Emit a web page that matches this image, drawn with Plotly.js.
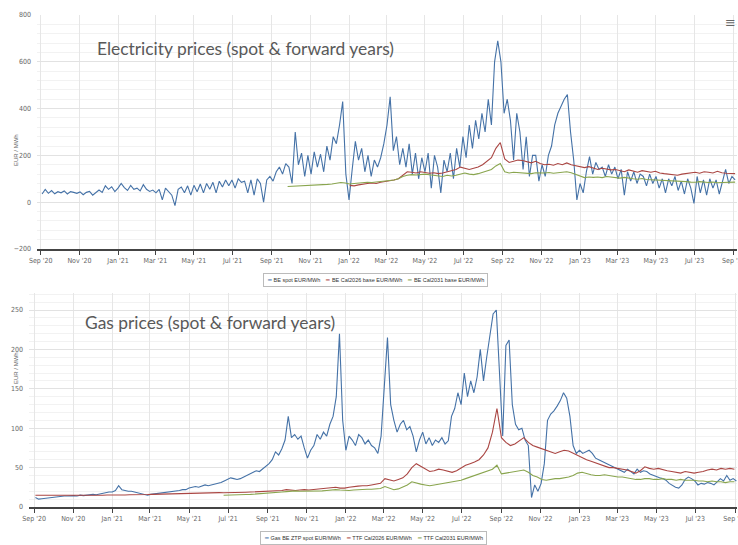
<!DOCTYPE html>
<html><head><meta charset="utf-8">
<script src="https://cdn.plot.ly/plotly-3.0.1.min.js"></script>
<style>html,body{margin:0;padding:0;background:#fff}#chart{width:738px;height:545px}</style>
</head><body><div id="chart"></div>
<script>
// ---------- Electricity (EUR/MWh) ----------
const elecSpotStart = '2020-09-03', elecSpotStep = 5;
const elecSpot = [
 35,55,38,50,36,45, 40,48,35,45,42,38, 44,32,42,46,30,40, 52,42,70,55,66,45,
 60,80,62,50,72,55, 60,48,75,55,46,52, 40,55,10,60,45,30, -15,55,65,40,70,30,
 72,45,78,40,80,55, 85,40,90,65,95,70, 95,60,100,85,90,40, 95,30,100,80,0,95,
 110,90,130,150,120,165, 150,80,300,160,210,110, 200,120,215,150,205,130, 240,180,280,250,330,430,
 120,10,140,260,180,230, 130,200,110,180,150,190, 250,330,450,220,280,160, 230,150,250,120,210,100,
 190,130,210,60,200,150, 40,180,130,210,100,230, 150,280,190,330,230,350, 270,380,300,440,330,600,
 690,600,380,440,350,180, 380,300,140,280,110,200, 200,90,160,110,200,240, 330,380,410,440,460,300,
 180,10,80,40,130,195, 120,170,140,150,110,160, 120,150,100,140,30,130, 90,130,80,120,110,70,
 120,80,110,60,100,40, 100,70,110,50,90,35, 100,60,-5,110,40,95, 30,100,60,95,35,90,
 140,80,110,95
];
const elecCal26Start = '2022-01-02', elecCal26Step = 7;
const elecCal26 = [
 72,70,74,78, 80,82,80,85, 88,90,95,100, 115,130,128,125, 130,128,124,126, 122,125,130,135,
 140,150,145,140, 145,150,160,175, 190,230,255,185,170,175, 180,178,172,168,175,165,
 160,162,158,165,160,168,160,155, 150,148,152,145,140,145,142,138, 140,135,130,138,132,128,135,130,
 128,132,125,122,120,118,115,120, 122,125,128,124,130,128,125,132, 126,124,122,122
];
const elecCal31Start = '2021-09-26', elecCal31Step = 7;
const elecCal31 = [
 67,68,66,68,70, 69,70,72,74,76, 78,80,84,82, 78,80,82,84, 85,84,86,88, 90,92,95,100,
 110,115,118,116, 118,120,117,115, 112,110,115,112, 115,120,125,120, 118,122,128,135,
 140,155,165,130, 125,128,126,124, 125,122,126,124, 125,127,124,126, 128,130,126,118,
 110,105,108,106, 108,105,110,107, 105,103,106,102, 100,98,101,97, 96,98,95,94,
 95,92,90,92, 88,86,85,88, 85,84,86,83, 84,85,86,86
];

// ---------- Gas (EUR/MWh) ----------
const gasSpotStart = '2020-09-03', gasSpotStep = 5;
const gasSpot = [
 12,10,10.5,11,12,12.5, 13,13,13.5,14,14,14.5, 14.5,14,15,14.5,15,15.5, 16,15.5,16.5,17,18,19,
 19,21,27,22,21,20, 20,19,18,17,16,15, 16,16.5,17,18,18,19, 19,20,20,21,22,22,
 24,25,26,25,27,28, 27,28,29,30,31,33, 35,37,36,35,36,38, 40,42,44,46,45,48,
 51,55,60,70,66,74, 85,115,88,92,86,90, 75,62,72,78,92,86, 95,90,105,115,140,220,
 110,72,90,85,78,92, 88,80,85,78,75,68, 90,160,215,130,110,95, 105,110,98,102,90,70,
 85,95,80,88,78,85, 82,88,80,84,115,125, 145,130,170,140,160,145, 165,200,160,190,215,245,
 250,160,90,205,212,130, 105,98,100,85,78,12, 28,20,30,55,110,118, 122,128,135,145,138,115,
 78,68,72,68,70,72, 68,62,60,58,55,54, 52,50,48,46,44,48, 45,42,48,44,46,45,
 42,40,38,37,36,34, 30,27,25,24,28,35, 38,36,33,28,30,29, 31,30,28,32,36,33,
 40,34,36,33
];
const gasCal26Start = '2020-09-03', gasCal26Step = 7;
const gasCal26 = [
 15,15,15,14.8,14.5,14.5,14.8,15,14.6, 14.5,14.3,14.5,14.2,14.5,14.8,15,15.2,
 15,15.2,15.5,15.3,15.5,15.8,15.6,15.5,15.8, 16,16.2,16,16.3,16.5,16.5,16.8,17,17,
 17.2,17.5,17.3,17.5,17.8,18,18.2,18, 18,18.3,18.5,18.5,18.8,19,19.2,19.5,19.5,
 19.8,20,20.5,21,22,21.5,21,21.5,22, 21.5,22,22.5,23,24,24.5,25,24,
 24,25,26,26.5,27,27,28,29,30, 36,34,33,35,37,42,50,55,52, 48,45,46,48,47,45,44,46,50,
 53,55,57,60,66,75,95,125, 88,82,78,80,84,88,82,78,76, 74,72,70,68,70,72,71,68,
 66,62,60,58,56,54,52,50,50, 49,48,47,45,43,46,51,49,48, 49,47,46,45,44,43,45,44,43,
 44,45,47,48,47,49,48,49,48
];
const gasCal31Start = '2021-06-24', gasCal31Step = 7;
const gasCal31 = [
 15,15,15.2,15.3,15.5,15.8,16,16.3,16.8,17, 17.5,18,18.5,19,19.5,20,20.5,20,20,
 20,20.5,20.2,20.5,21,21.5,22,21.5, 21,21,21.5,22,22,22.5,22.5,23,23.5,
 26,24,22,23,25,28,32,30,29, 28,27,28,29,30,31,32,33, 34,36,38,40,42,44,45,48,
 53,42,43,44,45,46,47,44,40,38, 35,34,35,36,36,37,38,40, 43,44,42,41,40,40,41,40,39,
 38,38,37,36,35,35,36,36,35, 35,36,35,35,34,35,34,34,34, 33,33,32,33,32,32,31,32,32
];

const elecNames = ['BE spot EUR/MWh','BE Cal2026 base EUR/MWh','BE Cal2031 base EUR/MWh'];
const gasNames = ['Gas BE ZTP spot EUR/MWh','TTF Cal2026 EUR/MWh','TTF Cal2031 EUR/MWh'];
const colors = ['#4572A7','#AA4643','#89A54E'];

function dates(start, step, n){
  const t0 = Date.parse(start + 'T00:00:00Z'); const out = [];
  for (let i = 0; i < n; i++) out.push(new Date(t0 + i*step*86400000).toISOString().slice(0,10));
  return out;
}
function tr(start, step, vals, name, color, xa, ya){
  return {type:'scatter', mode:'lines', x:dates(start, step, vals.length), y:vals, name:name,
    line:{color:color, width:1.1}, xaxis:xa, yaxis:ya, showlegend:false, hoverinfo:'x+y+name'};
}
const data = [
  tr(elecSpotStart, elecSpotStep, elecSpot, elecNames[0], colors[0], 'x', 'y'),
  tr(elecCal26Start, elecCal26Step, elecCal26, elecNames[1], colors[1], 'x', 'y'),
  tr(elecCal31Start, elecCal31Step, elecCal31, elecNames[2], colors[2], 'x', 'y'),
  tr(gasSpotStart, gasSpotStep, gasSpot, gasNames[0], colors[0], 'x2', 'y2'),
  tr(gasCal26Start, gasCal26Step, gasCal26, gasNames[1], colors[1], 'x2', 'y2'),
  tr(gasCal31Start, gasCal31Step, gasCal31, gasNames[2], colors[2], 'x2', 'y2')
];

const W = 738, H = 545;
const tickFont = {family:'Liberation Sans Narrow, DejaVu Sans Condensed, Arial', size:7, color:'#666'};
function xax(l, r, range, anchor){
  return {domain:[l/W, r/W], anchor:anchor, type:'date', range:range, tick0:'2020-09-01', dtick:'M2',
    tickformat:"%b '%y", ticks:'outside', ticklen:4, tickcolor:'#444', showline:true, linecolor:'#444',
    linewidth:1.5, showgrid:true, gridcolor:'#e6e6e6', gridwidth:1, zeroline:false, tickfont:tickFont,
    ticklabeloverflow:'allow'};
}
function yax(top, bot, range, dtick, minor, anchor){
  return {domain:[1-bot/H, 1-top/H], anchor:anchor, range:range, dtick:dtick, tick0:0, showline:false,
    zeroline:false, showgrid:true, gridcolor:'#e2e2e2', ticks:'', ticklabelstandoff:5, tickfont:tickFont,
    minor:{dtick:minor, showgrid:true, gridcolor:'#f2f2f2', gridwidth:1}};
}
function legendText(names){
  return names.map((n,i)=>`<span style="color:${colors[i]}">━</span> ${n}`).join('    ');
}
const layout = {
  width:W, height:H, margin:{l:0, r:0, t:0, b:0}, paper_bgcolor:'#fff', plot_bgcolor:'#fff',
  showlegend:false,
  xaxis: xax(37, 737, ['2020-08-26','2023-09-06'], 'y'),
  yaxis: yax(15, 249, [-200, 800], 200, 40, 'x'),
  xaxis2: xax(29, 737, ['2020-08-24','2023-09-04'], 'y2'),
  yaxis2: yax(293, 507, [0, 271.6], 50, 10, 'x2'),
  annotations: [
    {xref:'paper', yref:'paper', x:95/W, y:1-49/H, xanchor:'left', yanchor:'middle', showarrow:false,
     text:'Electricity prices (spot &amp; forward years)', font:{family:'Lato, Open Sans, sans-serif', size:17.4, color:'#595959'}},
    {xref:'paper', yref:'paper', x:83/W, y:1-322/H, xanchor:'left', yanchor:'middle', showarrow:false,
     text:'Gas prices (spot &amp; forward years)', font:{family:'Lato, Open Sans, sans-serif', size:17.4, color:'#595959'}},
    {xref:'paper', yref:'paper', x:11/W, y:1-132/H, textangle:-90, showarrow:false, text:'EUR / MWh',
     font:{family:'Liberation Sans Narrow, Arial', size:6, color:'#666'}},
    {xref:'paper', yref:'paper', x:11/W, y:1-386/H, textangle:-90, showarrow:false, text:'EUR / MWh',
     font:{family:'Liberation Sans Narrow, Arial', size:6, color:'#666'}},
    {xref:'paper', yref:'paper', x:375/W, y:1-280/H, xanchor:'center', yanchor:'middle', showarrow:false,
     text:legendText(elecNames), font:{family:'Liberation Sans Narrow, Arial', size:5.5, color:'#333'},
     bordercolor:'#bbb', borderwidth:1, borderpad:3, bgcolor:'#fff'},
    {xref:'paper', yref:'paper', x:373/W, y:1-538/H, xanchor:'center', yanchor:'middle', showarrow:false,
     text:legendText(gasNames), font:{family:'Liberation Sans Narrow, Arial', size:5.5, color:'#333'},
     bordercolor:'#bbb', borderwidth:1, borderpad:3, bgcolor:'#fff'},
    {xref:'paper', yref:'paper', x:1, y:1-22/H, xanchor:'right', yanchor:'middle', showarrow:false,
     text:'≡', font:{family:'DejaVu Sans', size:13, color:'#666'}}
  ]
};
Plotly.newPlot('chart', data, layout, {displayModeBar:false});
</script>
</body></html>
